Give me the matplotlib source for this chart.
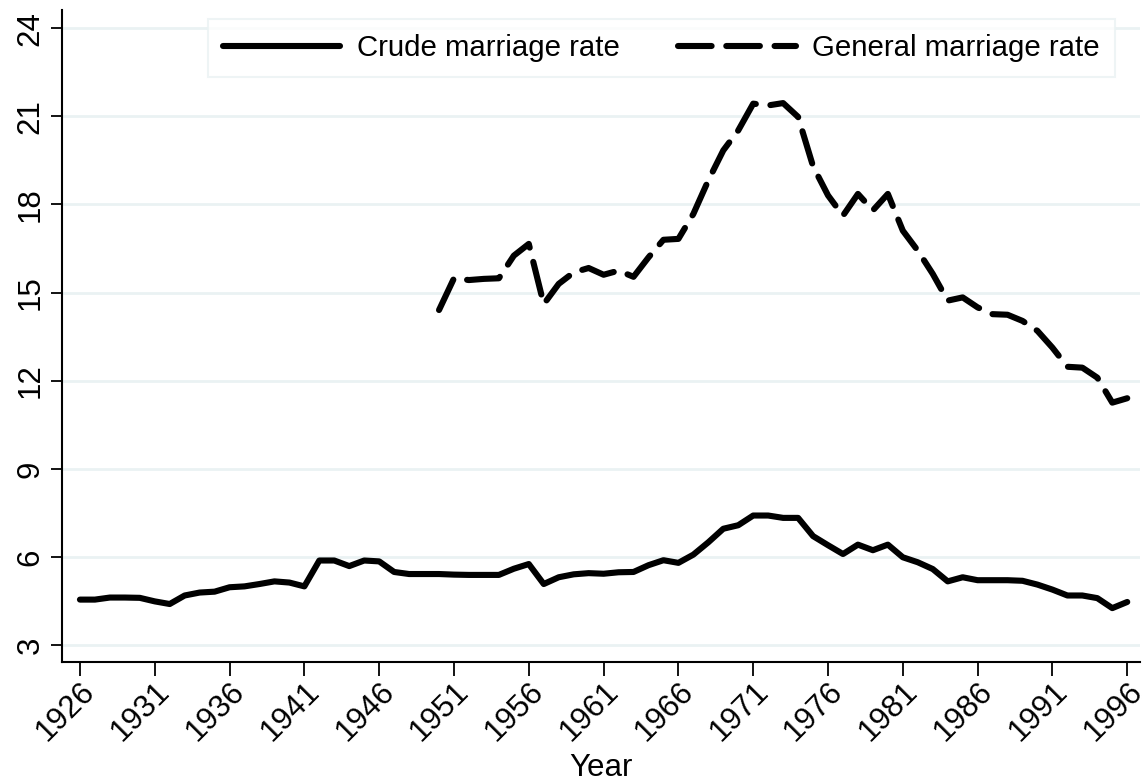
import matplotlib
matplotlib.use("Agg")
import matplotlib.pyplot as plt

plt.rcParams['font.family'] = ['Liberation Sans', 'DejaVu Sans']

# Crude marriage rate, 1926-1996
years_crude = list(range(1926, 1997))
crude = [4.56, 4.56, 4.63, 4.63, 4.62, 4.50, 4.41, 4.70, 4.80, 4.83,
         4.98, 5.01, 5.09, 5.18, 5.14, 5.01, 5.89, 5.89, 5.70, 5.89,
         5.86, 5.50, 5.43, 5.43, 5.43, 5.41, 5.40, 5.40, 5.40, 5.61,
         5.77, 5.09, 5.32, 5.42, 5.46, 5.44, 5.49, 5.50, 5.73, 5.90,
         5.81, 6.09, 6.51, 6.97, 7.09, 7.42, 7.42, 7.34, 7.34, 6.72,
         6.41, 6.11, 6.43, 6.24, 6.43, 6.00, 5.83, 5.60, 5.18, 5.32,
         5.22, 5.22, 5.22, 5.20, 5.07, 4.90, 4.70, 4.70, 4.61, 4.27,
         4.48]

# General marriage rate, 1950-1996
years_general = list(range(1950, 1997))
general = [14.41, 15.49, 15.43, 15.47, 15.49, 16.26, 16.66, 14.61, 15.30, 15.69,
           15.84, 15.61, 15.75, 15.54, 16.20, 16.80, 16.83, 17.68, 18.82, 19.84,
           20.52, 21.43, 21.37, 21.45, 20.98, 19.30, 18.31, 17.62, 18.36, 17.80,
           18.36, 17.11, 16.43, 15.64, 14.73, 14.84, 14.50, 14.27, 14.25, 14.04,
           13.70, 13.13, 12.48, 12.45, 12.11, 11.26, 11.41]

xticks = list(range(1926, 1997, 5))
yticks = list(range(3, 25, 3))
grid_col = '#eaf2f3'

fig = plt.figure(figsize=(11.48, 7.83), dpi=100)
ax = fig.add_axes([0.054, 0.155, 0.939, 0.832])

ax.plot(years_crude, crude, color='black', lw=4.4, solid_capstyle='round',
        solid_joinstyle='round', label='Crude marriage rate', zorder=3)
ax.plot(years_general, general, color='black', lw=4.4, dashes=(5.5, 2.4),
        dash_capstyle='round', dash_joinstyle='round',
        label='General marriage rate', zorder=3)

ax.set_xlim(1924.8, 1996.85)
ax.set_ylim(2.45, 24.61)
ax.set_xticks(xticks)
ax.set_yticks(yticks)
ax.set_xticklabels([str(t) for t in xticks], rotation=45, ha='right',
                   rotation_mode='anchor')
ax.set_yticklabels([str(t) for t in yticks], rotation=90, va='center')
ax.tick_params(axis='both', labelsize=22.5, width=1.3, color='black')
ax.tick_params(axis='x', length=10, pad=1)
ax.tick_params(axis='y', length=8, pad=4)

ax.yaxis.grid(True, color=grid_col, lw=2)
ax.set_axisbelow(True)
for s in ['top', 'right']:
    ax.spines[s].set_visible(False)
for s in ['left', 'bottom']:
    ax.spines[s].set_linewidth(1.5)

ax.set_xlabel('Year', fontsize=22.5, labelpad=4)

leg = ax.legend(loc='upper left', bbox_to_anchor=(0.1354, 0.986), ncol=2,
                fontsize=21.2, frameon=True, fancybox=False, borderaxespad=0,
                handlelength=4.0, handletextpad=0.55, columnspacing=2.0,
                borderpad=0.5)
leg.get_frame().set_edgecolor(grid_col)
leg.get_frame().set_linewidth(1.5)

fig.savefig('out.png', dpi=100, facecolor='white')
